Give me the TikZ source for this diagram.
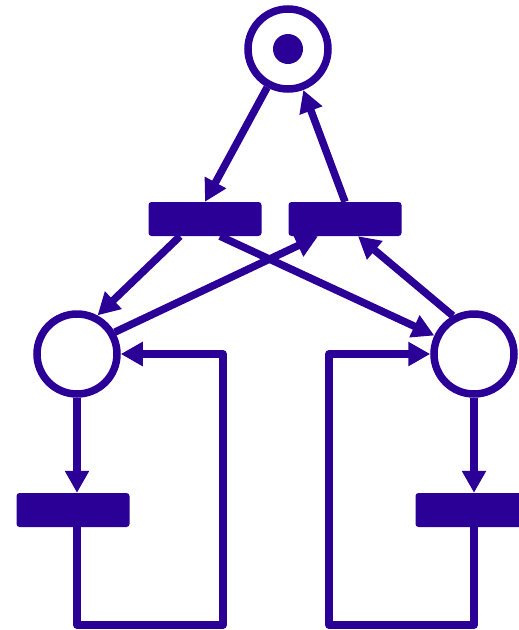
\documentclass[tikz,border=0pt]{standalone}
\usepackage{tikz}
\usetikzlibrary{arrows.meta}
\definecolor{netblue}{RGB}{42,0,150}
\tikzset{
  place/.style={circle,draw=netblue,line width=7.5pt,minimum size=80pt,inner sep=0pt},
  token/.style={circle,fill=netblue,minimum size=30pt,inner sep=0pt},
  transition/.style={rectangle,fill=netblue,rounded corners=3pt,minimum width=113pt,minimum height=34pt,inner sep=0pt},
  arc/.style={draw=netblue,line width=7.5pt,-{Triangle[length=22pt,width=23pt]}},
}

\begin{document}
\begin{tikzpicture}[x=1pt,y=-1pt]
        \useasboundingbox (0,0) rectangle (519,630);
        % places
        \node [place] (pt) at (288,49) {};
        \node [token] (tok) at (288,49) {};
        \node [place] (pl) at (77,354) {};
        \node [place] (pr) at (474,354) {};
        % transitions
        \node [transition] (ta) at (205,219) {};
        \node [transition] (tb) at (345,219) {};
        \node [transition] (tl) at (73,510) {};
        \node [transition] (tr) at (472,510) {};
        % corners of the two loops
        \coordinate (lc) at (223,625);
        \coordinate (rc) at (329,625);
        \draw [arc] (pt) -- (ta.north);
        \draw [arc] (tb.north) -- (pt);
        \draw [arc] ([xshift=-25pt]ta.south) -- (pl.62);
        \draw [arc] ([xshift=15pt]ta.south) -- (pr.155);
        \draw [arc] (pl.30) -- ([xshift=-27pt]tb.south);
        \draw [arc] (pr.119) -- ([xshift=13pt]tb.south);
        \draw [arc] (pl) -- (pl |- tl.north);
        \draw [arc] (pr) -- (pr |- tr.north);
        \draw [arc,line join=round] (pl |- tl.south) |- (lc) |- (pl.east);
        \draw [arc,line join=round] (pr |- tr.south) |- (rc) |- (pr.west);
\end{tikzpicture}
\end{document}
